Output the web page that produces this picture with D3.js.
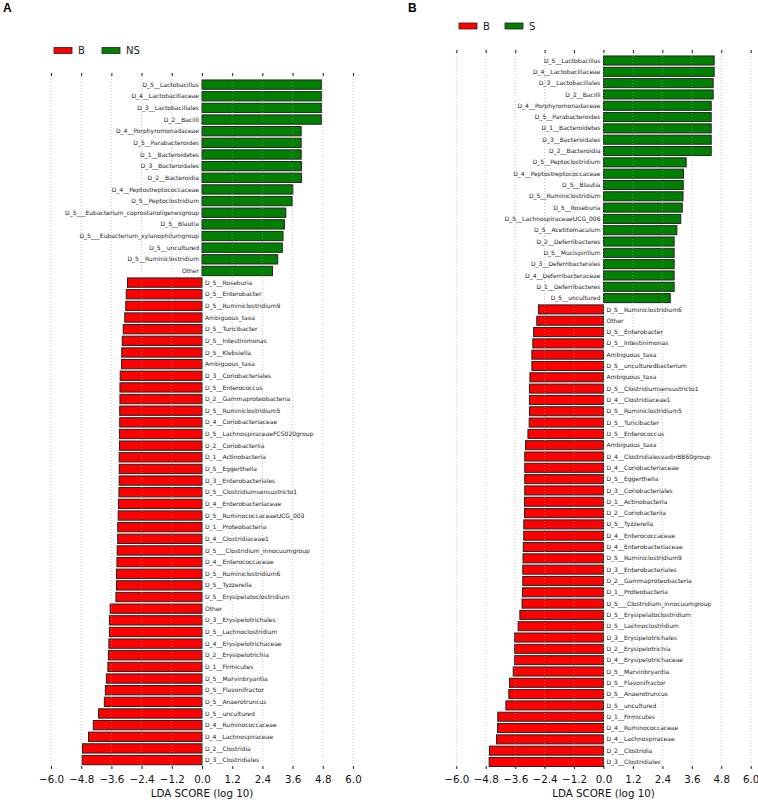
<!DOCTYPE html>
<html>
<head>
<meta charset="utf-8">
<script src="https://cdn.jsdelivr.net/npm/d3@7/dist/d3.min.js"></script>
<style>
  body { margin: 0; background: #fff; }
  svg { display: block; font-family: "DejaVu Sans", sans-serif; }
</style>
</head>
<body>
<svg id="chart" width="758" height="800"></svg>
<script>
// tick labels shared by both panels
const ldaTicks = [-6.0, -4.8, -3.6, -2.4, -1.2, 0.0, 1.2, 2.4, 3.6, 4.8, 6.0]

// panel A : B vs NS
const groupsA = ['B', 'NS']
const taxaA = [
  'D_5__Lactobacillus', 'D_4__Lactobacillaceae', 'D_3__Lactobacillales', 'D_2__Bacilli',
  'D_4__Porphyromonadaceae', 'D_5__Parabacteroides', 'D_1__Bacteroidetes', 'D_3__Bacteroidales',
  'D_2__Bacteroidia', 'D_4__Peptostreptococcaceae', 'D_5__Peptoclostridium',
  'D_5___Eubacterium_coprostanoligenesgroup', 'D_5__Blautia', 'D_5___Eubacterium_xylanophilumgroup',
  'D_5__uncultured', 'D_5__Ruminiclostridium', 'Other',
  'D_5__Roseburia', 'D_5__Enterobacter', 'D_5__Ruminiclostridium9', 'Ambiguous_taxa',
  'D_5__Turicibacter', 'D_5__Intestinimonas', 'D_5__Klebsiella', 'Ambiguous_taxa',
  'D_3__Coriobacteriales', 'D_5__Enterococcus', 'D_2__Gammaproteobacteria', 'D_5__Ruminiclostridium5',
  'D_4__Coriobacteriaceae', 'D_5__LachnospiraceaeFCS020group', 'D_2__Coriobacteriia',
  'D_1__Actinobacteria', 'D_5__Eggerthella', 'D_3__Enterobacteriales', 'D_5__Clostridiumsensustricto1',
  'D_4__Enterobacteriaceae', 'D_5__RuminococcaceaeUCG_003', 'D_1__Proteobacteria',
  'D_4__Clostridiaceae1', 'D_5___Clostridium_innocuumgroup', 'D_4__Enterococcaceae',
  'D_5__Ruminiclostridium6', 'D_5__Tyzzerella', 'D_5__Erysipelatoclostridium', 'Other',
  'D_3__Erysipelotrichales', 'D_5__Lachnoclostridium', 'D_4__Erysipelotrichaceae',
  'D_2__Erysipelotrichia', 'D_1__Firmicutes', 'D_5__Marvinbryantia', 'D_5__Flavonifractor',
  'D_5__Anaerotruncus', 'D_5__uncultured', 'D_4__Ruminococcaceae', 'D_4__Lachnospiraceae',
  'D_2__Clostridia', 'D_3__Clostridiales'
]
const ldaA = [
  4.74, 4.74, 4.74, 4.74, 3.94, 3.94, 3.94, 3.95, 3.95, 3.61, 3.58, 3.33, 3.28, 3.22, 3.19, 3.01, 2.80,
  -2.96, -3.01, -3.03, -3.07, -3.13, -3.17, -3.19, -3.20, -3.25, -3.26, -3.26, -3.27, -3.27, -3.28,
  -3.28, -3.29, -3.29, -3.29, -3.30, -3.32, -3.33, -3.35, -3.35, -3.37, -3.38, -3.40, -3.40, -3.42,
  -3.65, -3.68, -3.68, -3.70, -3.72, -3.74, -3.80, -3.84, -3.88, -4.11, -4.32, -4.51, -4.75, -4.76
]

// panel B : B vs S
const groupsB = ['B', 'S']
const taxaB = [
  'D_5__Lactobacillus', 'D_4__Lactobacillaceae', 'D_3__Lactobacillales', 'D_2__Bacilli',
  'D_4__Porphyromonadaceae', 'D_5__Parabacteroides', 'D_1__Bacteroidetes', 'D_3__Bacteroidales',
  'D_2__Bacteroidia', 'D_5__Peptoclostridium', 'D_4__Peptostreptococcaceae', 'D_5__Blautia',
  'D_5__Ruminiclostridium', 'D_5__Roseburia', 'D_5__LachnospiraceaeUCG_006', 'D_5__Acetitomaculum',
  'D_2__Deferribacteres', 'D_5__Mucispirillum', 'D_3__Deferribacterales', 'D_4__Deferribacteraceae',
  'D_1__Deferribacteres', 'D_5__uncultured',
  'D_5__Ruminiclostridium6', 'Other', 'D_5__Enterobacter', 'D_5__Intestinimonas', 'Ambiguous_taxa',
  'D_5__unculturedbacterium', 'Ambiguous_taxa', 'D_5__Clostridiumsensustricto1', 'D_4__Clostridiaceae1',
  'D_5__Ruminiclostridium5', 'D_5__Turicibacter', 'D_5__Enterococcus', 'Ambiguous_taxa',
  'D_4__ClostridialesvadinBB60group', 'D_4__Coriobacteriaceae', 'D_5__Eggerthella',
  'D_3__Coriobacteriales', 'D_1__Actinobacteria', 'D_2__Coriobacteriia', 'D_5__Tyzzerella',
  'D_4__Enterococcaceae', 'D_4__Enterobacteriaceae', 'D_5__Ruminiclostridium9', 'D_3__Enterobacteriales',
  'D_2__Gammaproteobacteria', 'D_1__Proteobacteria', 'D_5___Clostridium_innocuumgroup',
  'D_5__Erysipelatoclostridium', 'D_5__Lachnoclostridium', 'D_3__Erysipelotrichales',
  'D_2__Erysipelotrichia', 'D_4__Erysipelotrichaceae', 'D_5__Marvinbryantia', 'D_5__Flavonifractor',
  'D_5__Anaerotruncus', 'D_5__uncultured', 'D_1__Firmicutes', 'D_4__Ruminococcaceae',
  'D_4__Lachnospiraceae', 'D_2__Clostridia', 'D_3__Clostridiales'
]
const ldaB = [
  4.51, 4.51, 4.47, 4.47, 4.39, 4.39, 4.39, 4.39, 4.39, 3.37, 3.26, 3.25, 3.24, 3.21, 3.15, 2.99,
  2.88, 2.88, 2.88, 2.88, 2.88, 2.72,
  -2.65, -2.72, -2.85, -2.88, -2.92, -2.92, -3.00, -3.02, -3.02, -3.02, -3.03, -3.08, -3.18, -3.21,
  -3.21, -3.21, -3.21, -3.22, -3.22, -3.25, -3.25, -3.27, -3.28, -3.29, -3.29, -3.30, -3.32, -3.41,
  -3.48, -3.62, -3.62, -3.62, -3.68, -3.83, -3.86, -3.98, -4.31, -4.32, -4.36, -4.65, -4.66
]

const RED = '#ff0000'
const GREEN = '#008000'

const svg = d3.select('#chart')

function drawPanel(opts) {
  const {letter, letterX, taxa, lda, groups, xRange, axisTop, axisBottom, bandRange, legendX, legendY} = opts
  const g = svg.append('g')

  const x = d3.scaleLinear().domain([-6, 6]).range(xRange)
  const y = d3.scaleBand().domain(d3.range(taxa.length)).range(bandRange).paddingInner(0.2).paddingOuter(0.1)

  // panel letter
  svg.append('text')
    .attr('x', letterX).attr('y', 12)
    .attr('font-family', 'Liberation Sans, Arial, sans-serif')
    .attr('font-weight', 'bold').attr('font-size', 12)
    .text(letter)

  // legend
  const leg = g.append('g').attr('transform', `translate(${legendX},${legendY})`)
  groups.forEach((name, i) => {
    const off = i === 0 ? 0 : (letter === 'A' ? 48 : 46)
    leg.append('rect')
      .attr('x', off).attr('y', -3).attr('width', 18).attr('height', 6)
      .attr('fill', i === 0 ? RED : GREEN).attr('stroke', '#222').attr('stroke-width', 0.8)
    leg.append('text')
      .attr('x', off + 24).attr('y', 0).attr('dy', '0.35em')
      .attr('font-size', 10).attr('fill', '#222')
      .text(name)
  })

  // bars
  g.append('g').selectAll('rect')
    .data(lda)
    .join('rect')
    .attr('x', d => Math.min(x(0), x(d)))
    .attr('width', d => Math.abs(x(d) - x(0)))
    .attr('y', (d, i) => y(i))
    .attr('height', y.bandwidth())
    .attr('fill', d => d > 0 ? GREEN : RED)
    .attr('stroke', '#222')
    .attr('stroke-width', 1)

  // dotted grid over the bars
  g.append('g').selectAll('line')
    .data(ldaTicks)
    .join('line')
    .attr('x1', d => x(d)).attr('x2', d => x(d))
    .attr('y1', axisTop).attr('y2', axisBottom)
    .attr('stroke', '#999').attr('stroke-opacity', 0.7)
    .attr('stroke-width', 0.8).attr('stroke-dasharray', '1,2')

  // taxon labels beside the zero line
  g.append('g').selectAll('text')
    .data(taxa)
    .join('text')
    .attr('x', (d, i) => lda[i] > 0 ? x(0) - 3 : x(0) + 3)
    .attr('y', (d, i) => y(i) + y.bandwidth() / 2)
    .attr('dy', '0.35em')
    .attr('text-anchor', (d, i) => lda[i] > 0 ? 'end' : 'start')
    .attr('font-size', 6).attr('fill', '#222')
    .text(d => d)

  // top ticks (no labels)
  const top = g.append('g').attr('transform', `translate(0,${axisTop})`)
    .call(d3.axisTop(x).tickValues(ldaTicks).tickSize(-3).tickFormat(''))
  top.select('.domain').remove()
  top.selectAll('line').attr('stroke', '#222')

  // bottom axis
  const bot = g.append('g').attr('transform', `translate(0,${axisBottom})`)
    .call(d3.axisBottom(x).tickValues(ldaTicks).tickSize(-3).tickPadding(7).tickFormat(d3.format('.1f')))
  bot.select('.domain').remove()
  bot.selectAll('line').attr('stroke', '#222')
  bot.selectAll('text').attr('font-size', 10.3).attr('font-family', 'DejaVu Sans, sans-serif').attr('fill', '#111')

  g.append('text')
    .attr('x', x(0)).attr('y', 797)
    .attr('text-anchor', 'middle')
    .attr('font-size', 10.3).attr('fill', '#111')
    .text('LDA SCORE (log 10)')
}

drawPanel({
  letter: 'A', letterX: 3, taxa: taxaA, lda: ldaA, groups: groupsA,
  xRange: [51, 353], axisTop: 73, axisBottom: 769, bandRange: [78.8, 765.9],
  legendX: 54, legendY: 50.5
})

drawPanel({
  letter: 'B', letterX: 408, taxa: taxaB, lda: ldaB, groups: groupsB,
  xRange: [456.3, 750.7], axisTop: 50, axisBottom: 769, bandRange: [54.85, 767.65],
  legendX: 459, legendY: 26
})
</script>
</body>
</html>
